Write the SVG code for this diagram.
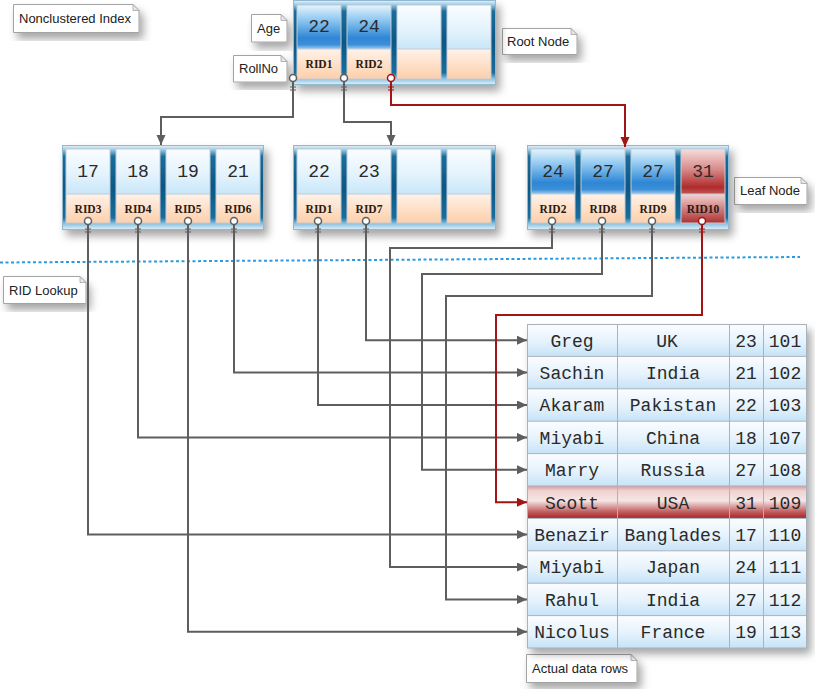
<svg xmlns="http://www.w3.org/2000/svg" width="815" height="689" viewBox="0 0 815 689">
<defs>
<style>
.note{fill:#fff;stroke:#a3a3a3;stroke-width:1}
.fold{fill:#e8e8e8;stroke:#a3a3a3;stroke-width:0.8}
.nt{font-family:"Liberation Sans",Arial,sans-serif;font-size:13px;fill:#222}
.cont{fill:url(#contG);stroke:#8fb8d2;stroke-width:1}
.cb{stroke:#c2ccd6;stroke-width:1}
.top{fill:url(#normG)}
.hi{fill:url(#hiG)}
.redt{fill:url(#redTopG)}
.bot{fill:url(#peachG)}
.redb{fill:url(#redBotG)}
.num{font-family:"Liberation Mono","Courier New",monospace;font-size:18px;fill:#2a2a2a;text-anchor:middle}
.rid{font-family:"Liberation Serif","Times New Roman",serif;font-size:11.5px;font-weight:bold;fill:#2a1a10;text-anchor:middle}
.tt{font-family:"Liberation Mono","Courier New",monospace;font-size:18px;fill:#2a2a2a;text-anchor:middle}
.row{fill:url(#rowG)}
.rowr{fill:url(#rowRG)}
.grid{stroke:#a9b3bd;stroke-width:1;fill:none}
.cg{fill:none;stroke:#5e5e5e;stroke-width:2}
.cr{fill:none;stroke:#a51414;stroke-width:2}
.og{fill:#fff;stroke:#5e5e5e;stroke-width:1.5}
.or{fill:#fff;stroke:#a51414;stroke-width:1.5}
.tg{stroke:#5e5e5e;stroke-width:1.2}
.tr{stroke:#a51414;stroke-width:1.2}
</style>
<filter id="sh" x="-10%" y="-10%" width="130%" height="140%">
<feDropShadow dx="4" dy="6" stdDeviation="4" flood-color="#000" flood-opacity="0.35"/>
</filter>
<linearGradient id="contG" x1="0" y1="0" x2="0" y2="1">
<stop offset="0" stop-color="#e4f3fb"/>
<stop offset="0.05" stop-color="#9cc8e2"/>
<stop offset="0.13" stop-color="#1b6d9c"/>
<stop offset="0.5" stop-color="#0a5785"/>
<stop offset="0.86" stop-color="#1b6d9c"/>
<stop offset="0.93" stop-color="#8cc0de"/>
<stop offset="1" stop-color="#dff0fa"/>
</linearGradient>
<linearGradient id="normG" x1="0" y1="0" x2="0" y2="1">
<stop offset="0" stop-color="#fafdff"/>
<stop offset="0.6" stop-color="#e2f2fc"/>
<stop offset="1" stop-color="#c8e6f9"/>
</linearGradient>
<linearGradient id="hiG" x1="0" y1="0" x2="0" y2="1">
<stop offset="0" stop-color="#e6f4fd"/>
<stop offset="0.35" stop-color="#8cc6f0"/>
<stop offset="0.75" stop-color="#2e86d4"/>
<stop offset="0.9" stop-color="#3d8fd8"/>
<stop offset="1" stop-color="#9ccbef"/>
</linearGradient>
<linearGradient id="redTopG" x1="0" y1="0" x2="0" y2="1">
<stop offset="0" stop-color="#f6dede"/>
<stop offset="0.45" stop-color="#d88a8a"/>
<stop offset="0.85" stop-color="#b02a2a"/>
<stop offset="1" stop-color="#c25858"/>
</linearGradient>
<linearGradient id="peachG" x1="0" y1="0" x2="0" y2="1">
<stop offset="0" stop-color="#fff2e8"/>
<stop offset="1" stop-color="#fdcfab"/>
</linearGradient>
<linearGradient id="redBotG" x1="0" y1="0" x2="0" y2="1">
<stop offset="0" stop-color="#f3d4d4"/>
<stop offset="1" stop-color="#ad3030"/>
</linearGradient>
<linearGradient id="rowG" x1="0" y1="0" x2="0" y2="1">
<stop offset="0" stop-color="#fbfdff"/>
<stop offset="0.55" stop-color="#e5f2fc"/>
<stop offset="1" stop-color="#c6e3f7"/>
</linearGradient>
<linearGradient id="rowRG" x1="0" y1="0" x2="0" y2="1">
<stop offset="0" stop-color="#dc9a9a"/>
<stop offset="0.15" stop-color="#f0d2d2"/>
<stop offset="0.45" stop-color="#f5e6e6"/>
<stop offset="0.8" stop-color="#c25c5c"/>
<stop offset="1" stop-color="#a02828"/>
</linearGradient>
<marker id="ag" markerUnits="userSpaceOnUse" markerWidth="11" markerHeight="10" refX="10" refY="4.5" orient="auto">
<path d="M0,0 L10,4.5 L0,9 z" fill="#5e5e5e"/>
</marker>
<marker id="ar" markerUnits="userSpaceOnUse" markerWidth="11" markerHeight="10" refX="10" refY="4.5" orient="auto">
<path d="M0,0 L10,4.5 L0,9 z" fill="#a51414"/>
</marker>
</defs>

<line x1="0" y1="262.5" x2="800" y2="257" stroke="#2a9be0" stroke-width="2" stroke-dasharray="3 2.5"/>

<g id="note-nonclustered">
<path class="note" filter="url(#sh)" d="M13.5,4.5 H133 L139,10.5 V32.5 H13.5 Z"/>
<path class="fold" d="M133,4.5 V10.5 H139 Z"/>
<text class="nt" x="19" y="23">Nonclustered Index</text>
</g>
<g id="note-age">
<path class="note" filter="url(#sh)" d="M251.5,14.5 H281 L287,20.5 V42 H251.5 Z"/>
<path class="fold" d="M281,14.5 V20.5 H287 Z"/>
<text class="nt" x="257" y="33">Age</text>
</g>
<g id="note-rollno">
<path class="note" filter="url(#sh)" d="M233.5,55.5 H281 L287,61.5 V82 H233.5 Z"/>
<path class="fold" d="M281,55.5 V61.5 H287 Z"/>
<text class="nt" x="239" y="73">RollNo</text>
</g>
<g id="note-root">
<path class="note" filter="url(#sh)" d="M502.5,28.5 H571 L577,34.5 V54.5 H502.5 Z"/>
<path class="fold" d="M571,28.5 V34.5 H577 Z"/>
<text class="nt" x="507" y="46">Root Node</text>
</g>
<g id="note-leaf">
<path class="note" filter="url(#sh)" d="M734.5,177.5 H801 L807,183.5 V204.5 H734.5 Z"/>
<path class="fold" d="M801,177.5 V183.5 H807 Z"/>
<text class="nt" x="740" y="195">Leaf Node</text>
</g>
<g id="note-rid">
<path class="note" filter="url(#sh)" d="M3.5,276.5 H80 L86,282.5 V303.5 H3.5 Z"/>
<path class="fold" d="M80,276.5 V282.5 H86 Z"/>
<text class="nt" x="9" y="295">RID Lookup</text>
</g>
<g id="note-actual">
<path class="note" filter="url(#sh)" d="M526.5,654.5 H631 L637,660.5 V682.5 H526.5 Z"/>
<path class="fold" d="M631,654.5 V660.5 H637 Z"/>
<text class="nt" x="532" y="673">Actual data rows</text>
</g>

<g id="root-node">
<rect class="cont" filter="url(#sh)" x="293.5" y="0.5" width="202" height="84"/>
<rect class="hi" x="297" y="5" width="44" height="44"/><rect class="bot" x="297" y="49" width="44" height="30"/>
<rect class="hi" x="347" y="5" width="44" height="44"/><rect class="bot" x="347" y="49" width="44" height="30"/>
<rect class="top" x="397" y="5" width="44" height="44"/><rect class="bot" x="397" y="49" width="44" height="30"/>
<rect class="top" x="447" y="5" width="44" height="44"/><rect class="bot" x="447" y="49" width="44" height="30"/>
<g class="cb" fill="none">
<rect x="297" y="5" width="44" height="74"/><rect x="347" y="5" width="44" height="74"/><rect x="397" y="5" width="44" height="74"/><rect x="447" y="5" width="44" height="74"/>
<path d="M297,49H341M347,49H391M397,49H441M447,49H491"/>
</g>
<text class="num" x="319" y="32">22</text><text class="num" x="369" y="32">24</text>
<text class="rid" x="319" y="68">RID1</text><text class="rid" x="369" y="68">RID2</text>
</g>

<g id="leaf-left">
<rect class="cont" filter="url(#sh)" x="62.5" y="145.5" width="201" height="84"/>
<rect class="top" x="66" y="149" width="44" height="45"/><rect class="bot" x="66" y="194" width="44" height="29"/>
<rect class="top" x="116" y="149" width="44" height="45"/><rect class="bot" x="116" y="194" width="44" height="29"/>
<rect class="top" x="166" y="149" width="44" height="45"/><rect class="bot" x="166" y="194" width="44" height="29"/>
<rect class="top" x="216" y="149" width="44" height="45"/><rect class="bot" x="216" y="194" width="44" height="29"/>
<g class="cb" fill="none">
<rect x="66" y="149" width="44" height="74"/><rect x="116" y="149" width="44" height="74"/><rect x="166" y="149" width="44" height="74"/><rect x="216" y="149" width="44" height="74"/>
<path d="M66,194H110M116,194H160M166,194H210M216,194H260"/>
</g>
<text class="num" x="88" y="177">17</text><text class="num" x="138" y="177">18</text><text class="num" x="188" y="177">19</text><text class="num" x="238" y="177">21</text>
<text class="rid" x="88" y="213">RID3</text><text class="rid" x="138" y="213">RID4</text><text class="rid" x="188" y="213">RID5</text><text class="rid" x="238" y="213">RID6</text>
</g>

<g id="leaf-middle">
<rect class="cont" filter="url(#sh)" x="293.5" y="145.5" width="202" height="84"/>
<rect class="top" x="297" y="149" width="44" height="45"/><rect class="bot" x="297" y="194" width="44" height="29"/>
<rect class="top" x="347" y="149" width="44" height="45"/><rect class="bot" x="347" y="194" width="44" height="29"/>
<rect class="top" x="397" y="149" width="44" height="45"/><rect class="bot" x="397" y="194" width="44" height="29"/>
<rect class="top" x="447" y="149" width="44" height="45"/><rect class="bot" x="447" y="194" width="44" height="29"/>
<g class="cb" fill="none">
<rect x="297" y="149" width="44" height="74"/><rect x="347" y="149" width="44" height="74"/><rect x="397" y="149" width="44" height="74"/><rect x="447" y="149" width="44" height="74"/>
<path d="M297,194H341M347,194H391M397,194H441M447,194H491"/>
</g>
<text class="num" x="319" y="177">22</text><text class="num" x="369" y="177">23</text>
<text class="rid" x="319" y="213">RID1</text><text class="rid" x="369" y="213">RID7</text>
</g>

<g id="leaf-right">
<rect class="cont" filter="url(#sh)" x="527.5" y="145.5" width="201" height="84"/>
<rect class="hi" x="531" y="149" width="44" height="45"/><rect class="bot" x="531" y="194" width="44" height="29"/>
<rect class="hi" x="581" y="149" width="44" height="45"/><rect class="bot" x="581" y="194" width="44" height="29"/>
<rect class="hi" x="631" y="149" width="44" height="45"/><rect class="bot" x="631" y="194" width="44" height="29"/>
<rect class="redt" x="681" y="149" width="44" height="45"/><rect class="redb" x="681" y="194" width="44" height="29"/>
<g class="cb" fill="none">
<rect x="531" y="149" width="44" height="74"/><rect x="581" y="149" width="44" height="74"/><rect x="631" y="149" width="44" height="74"/><rect x="681" y="149" width="44" height="74"/>
<path d="M531,194H575M581,194H625M631,194H675M681,194H725"/>
</g>
<text class="num" x="553" y="177">24</text><text class="num" x="603" y="177">27</text><text class="num" x="653" y="177">27</text><text class="num" x="703" y="177">31</text>
<text class="rid" x="553" y="213">RID2</text><text class="rid" x="603" y="213">RID8</text><text class="rid" x="653" y="213">RID9</text><text class="rid" x="703" y="213">RID10</text>
</g>

<g id="data-rows">
<rect x="527" y="324" width="280" height="324" fill="#fff" filter="url(#sh)"/>
<rect class="row" x="527" y="324" width="280" height="32.4"/>
<rect class="row" x="527" y="356.4" width="280" height="32.4"/>
<rect class="row" x="527" y="388.8" width="280" height="32.4"/>
<rect class="row" x="527" y="421.2" width="280" height="32.4"/>
<rect class="row" x="527" y="453.6" width="280" height="32.4"/>
<rect class="rowr" x="527" y="486" width="280" height="32.4"/>
<rect class="row" x="527" y="518.4" width="280" height="32.4"/>
<rect class="row" x="527" y="550.8" width="280" height="32.4"/>
<rect class="row" x="527" y="583.2" width="280" height="32.4"/>
<rect class="row" x="527" y="615.6" width="280" height="32.4"/>
<g class="grid">
<rect x="527.5" y="324.5" width="279" height="323.5"/>
<path d="M617.5,324V648M729.5,324V648M763.5,324V648"/>
<path d="M527,356.4H807M527,388.8H807M527,421.2H807M527,453.6H807M527,486H807M527,518.4H807M527,550.8H807M527,583.2H807M527,615.6H807"/>
</g>
<g>
<text class="tt" x="572" y="346.5">Greg</text><text class="tt" x="667" y="346.5">UK</text><text class="tt" x="746" y="346.5">23</text><text class="tt" x="785" y="346.5">101</text>
<text class="tt" x="572" y="378.9">Sachin</text><text class="tt" x="673" y="378.9">India</text><text class="tt" x="746" y="378.9">21</text><text class="tt" x="785" y="378.9">102</text>
<text class="tt" x="572" y="411.3">Akaram</text><text class="tt" x="673" y="411.3">Pakistan</text><text class="tt" x="746" y="411.3">22</text><text class="tt" x="785" y="411.3">103</text>
<text class="tt" x="572" y="443.7">Miyabi</text><text class="tt" x="673" y="443.7">China</text><text class="tt" x="746" y="443.7">18</text><text class="tt" x="785" y="443.7">107</text>
<text class="tt" x="572" y="476.1">Marry</text><text class="tt" x="673" y="476.1">Russia</text><text class="tt" x="746" y="476.1">27</text><text class="tt" x="785" y="476.1">108</text>
<text class="tt" x="572" y="508.5">Scott</text><text class="tt" x="673" y="508.5">USA</text><text class="tt" x="746" y="508.5">31</text><text class="tt" x="785" y="508.5">109</text>
<text class="tt" x="572" y="540.9">Benazir</text><text class="tt" x="673" y="540.9">Banglades</text><text class="tt" x="746" y="540.9">17</text><text class="tt" x="785" y="540.9">110</text>
<text class="tt" x="572" y="573.3">Miyabi</text><text class="tt" x="673" y="573.3">Japan</text><text class="tt" x="746" y="573.3">24</text><text class="tt" x="785" y="573.3">111</text>
<text class="tt" x="572" y="605.7">Rahul</text><text class="tt" x="673" y="605.7">India</text><text class="tt" x="746" y="605.7">27</text><text class="tt" x="785" y="605.7">112</text>
<text class="tt" x="572" y="638.1">Nicolus</text><text class="tt" x="673" y="638.1">France</text><text class="tt" x="746" y="638.1">19</text><text class="tt" x="785" y="638.1">113</text>
</g>
</g>

<g id="connectors">
<path class="cg" marker-end="url(#ag)" d="M293,82 V117 H161 V145"/>
<path class="cg" marker-end="url(#ag)" d="M344,82 V122 H391 V145"/>
<path class="cr" marker-end="url(#ar)" d="M391,82 V105 H625 V147"/>
<path class="cg" marker-end="url(#ag)" d="M88,225 V534.6 H527"/>
<path class="cg" marker-end="url(#ag)" d="M138,225 V437.4 H527"/>
<path class="cg" marker-end="url(#ag)" d="M188,225 V631.8 H527"/>
<path class="cg" marker-end="url(#ag)" d="M234,225 V372.6 H527"/>
<path class="cg" marker-end="url(#ag)" d="M318,225 V405 H527"/>
<path class="cg" marker-end="url(#ag)" d="M366,225 V340.2 H527"/>
<path class="cg" marker-end="url(#ag)" d="M552,225 V248 H390 V567 H527"/>
<path class="cg" marker-end="url(#ag)" d="M602,225 V274 H422 V469.8 H527"/>
<path class="cg" marker-end="url(#ag)" d="M652,225 V296 H446 V599.4 H527"/>
<path class="cr" marker-end="url(#ar)" d="M702,225 V315 H496 V502.2 H527"/>
<circle class="og" cx="293" cy="78" r="3.5"/><circle class="og" cx="344" cy="78" r="3.5"/><circle class="or" cx="391" cy="78" r="3.5"/>
<path class="tg" d="M290,87H296M290,90H296M341,87H347M341,90H347"/>
<path class="tr" d="M388,87H394M388,90H394"/>
<circle class="og" cx="88" cy="221" r="3.5"/><circle class="og" cx="138" cy="221" r="3.5"/><circle class="og" cx="188" cy="221" r="3.5"/><circle class="og" cx="234" cy="221" r="3.5"/>
<circle class="og" cx="318" cy="221" r="3.5"/><circle class="og" cx="366" cy="221" r="3.5"/>
<circle class="og" cx="552" cy="221" r="3.5"/><circle class="og" cx="602" cy="221" r="3.5"/><circle class="og" cx="652" cy="221" r="3.5"/><circle class="or" cx="702" cy="221" r="3.5"/>
<path class="tg" d="M85,229H91M85,232H91M135,229H141M135,232H141M185,229H191M185,232H191M231,229H237M231,232H237M315,229H321M315,232H321M363,229H369M363,232H369M549,229H555M549,232H555M599,229H605M599,232H605M649,229H655M649,232H655"/>
<path class="tr" d="M699,229H705M699,232H705"/>
</g>
</svg>
